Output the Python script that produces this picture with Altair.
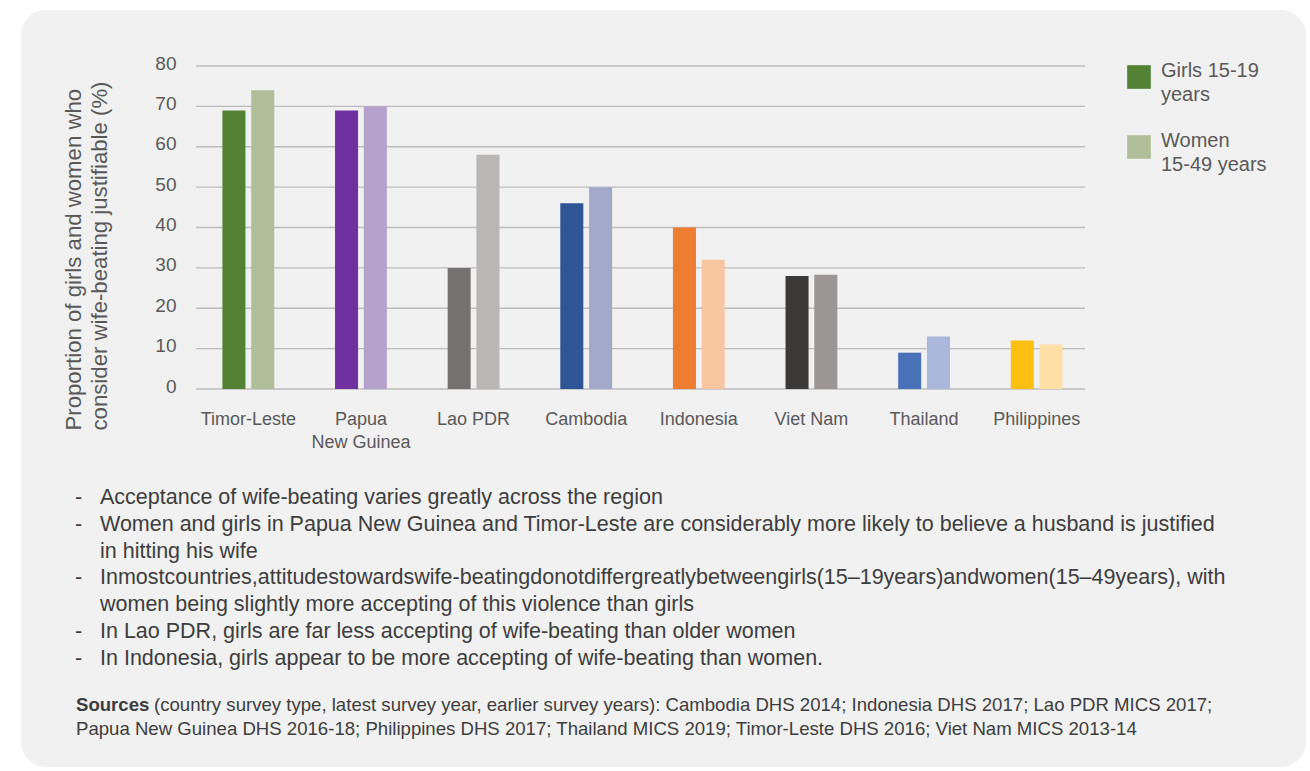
import altair as alt
import pandas as pd

# ---- data -------------------------------------------------------------
countries = ["Timor-Leste", "Papua New Guinea", "Lao PDR", "Cambodia",
             "Indonesia", "Viet Nam", "Thailand", "Philippines"]
girls = [69, 69, 30, 46, 40, 28, 9, 12]
women = [74, 70, 58, 50, 32, 28.3, 13, 11]
girls_colors = ["#548235", "#7030a0", "#767171", "#2f5597",
                "#ed7d31", "#3b3838", "#4a72b8", "#fdc010"]
women_colors = ["#b0bf9a", "#b4a2cc", "#bab6b5", "#a2a9cb",
                "#f8c6a0", "#9b9695", "#acb8db", "#fee0a6"]
groups = ["Girls 15-19 years", "Women 15-49 years"]
legend_colors = ["#548235", "#b0bf9a"]
y_ticks = [0, 10, 20, 30, 40, 50, 60, 70, 80]

bullets = [
    ["Acceptance of wife-beating varies greatly across the region"],
    ["Women and girls in Papua New Guinea and Timor-Leste are considerably more likely to believe a husband is justified",
     "in hitting his wife"],
    ["Inmostcountries,attitudestowardswife-beatingdonotdiffergreatlybetweengirls(15\u201319years)andwomen(15\u201349years), with",
     "women being slightly more accepting of this violence than girls"],
    ["In Lao PDR, girls are far less accepting of wife-beating than older women"],
    ["In Indonesia, girls appear to be more accepting of wife-beating than women."],
]
sources_head = "Sources"
sources_lines = [
    "(country survey type, latest survey year, earlier survey years): Cambodia DHS 2014; Indonesia DHS 2017; Lao PDR MICS 2017;",
    "Papua New Guinea DHS 2016-18; Philippines DHS 2017; Thailand MICS 2019; Timor-Leste DHS 2016; Viet Nam MICS 2013-14",
]

rows = []
for c, g, w, gc, wc in zip(countries, girls, women, girls_colors, women_colors):
    rows.append({"country": c, "group": groups[0], "value": g, "hex": gc})
    rows.append({"country": c, "group": groups[1], "value": w, "hex": wc})
bars_df = pd.DataFrame(rows)
grid_df = pd.DataFrame({"value": y_ticks})
one = pd.DataFrame({"k": [0]})

# ---- layout -----------------------------------------------------------
FONT = "Liberation Sans"
AXIS_GRAY = "#595959"
TEXT_GRAY = "#3d3d3d"
W, H = 901, 323
LEFT, TOP = 192, 66

x_enc = alt.X(
    "country:N", sort=countries,
    scale=alt.Scale(paddingInner=0.54, paddingOuter=0.27),
    axis=alt.Axis(
        title=None, labelAngle=0, domain=False, ticks=False, zindex=1,
        labelFont=FONT, labelFontSize=18, labelColor=AXIS_GRAY,
        labelPadding=21, labelLineHeight=23,
        labelExpr="datum.label == 'Papua New Guinea' ? ['Papua', 'New Guinea'] : datum.label",
    ),
)
y_enc = alt.Y(
    "value:Q", scale=alt.Scale(domain=[0, 80], nice=False),
    axis=alt.Axis(
        values=y_ticks, grid=False, domain=False, ticks=False, zindex=1,
        labelFont=FONT, labelFontSize=19, labelColor=AXIS_GRAY, labelPadding=16,
        labelOffset=-3,
        title=["Proportion of girls and women who",
               "consider wife-beating justifiable (%)"],
        titleFont=FONT, titleFontSize=22.2, titleFontWeight="normal",
        titleColor=AXIS_GRAY, titleAngle=270, titleAlign="left",
        titleBaseline="alphabetic", titleX=-112, titleY=364, titleLineHeight=26,
    ),
)

panel = alt.Chart(one).mark_rect(color="#f1f1f1", cornerRadius=25).encode(
    x=alt.value(21 - LEFT), x2=alt.value(1306 - LEFT),
    y=alt.value(10 - TOP), y2=alt.value(767 - TOP),
)

grid = alt.Chart(grid_df).mark_rule(color="#bdbdbd", strokeWidth=1.4).encode(
    y=y_enc, x=alt.value(196 - LEFT), x2=alt.value(1085 - LEFT),
)

bars = alt.Chart(bars_df).mark_bar().encode(
    x=x_enc,
    xOffset=alt.XOffset("group:N", sort=groups, scale=alt.Scale(paddingInner=0.2)),
    y=y_enc,
    fill=alt.Fill("hex:N", scale=None),
)

legend_layer = alt.Chart(bars_df).mark_square(opacity=0).encode(
    x=x_enc, y=y_enc,
    color=alt.Color(
        "group:N", scale=alt.Scale(domain=groups, range=legend_colors),
        legend=alt.Legend(
            title=None, orient="none", legendX=1127 - LEFT, legendY=65 - TOP,
            direction="vertical", symbolType="square", symbolSize=560,
            symbolOpacity=1, symbolStrokeWidth=0, padding=0,
            labelFont=FONT, labelFontSize=20, labelColor=AXIS_GRAY,
            labelBaseline="alphabetic",
            labelOffset=10, rowPadding=26, labelLimit=300,
            labelExpr="datum.label == 'Girls 15-19 years' ? ['Girls 15-19', 'years'] : ['Women', '15-49 years']",
        ),
    ),
)


def text_at(txt, x, y, size, color=TEXT_GRAY, weight="normal"):
    return alt.Chart(one).mark_text(
        text=txt, align="left", baseline="alphabetic", font=FONT,
        fontSize=size, fontWeight=weight, color=color,
    ).encode(x=alt.value(x - LEFT), y=alt.value(y - TOP))


texts = []
line_y = 504.0
for item in bullets:
    texts.append(text_at("-", 75, line_y, 21.5))
    for ln in item:
        texts.append(text_at(ln, 100, line_y, 21.5))
        line_y += 26.8

texts.append(text_at(sources_head, 76, 711, 18.6, weight="bold"))
texts.append(text_at(sources_lines[0], 154, 711, 18.6))
texts.append(text_at(sources_lines[1], 76, 735, 18.6))

chart = alt.layer(panel, grid, bars, legend_layer, *texts).properties(
    width=W, height=H,
    autosize=alt.AutoSizeParams(type="none"),
    padding={"left": LEFT, "top": TOP, "right": 1310 - LEFT - W, "bottom": 771 - TOP - H},
    background="white",
).configure(
    style={"guide-label": {"lineHeight": 24}},
    view=alt.ViewConfig(stroke=None),
)

chart.save("out.html", embed_options={"renderer": "svg", "actions": False})
